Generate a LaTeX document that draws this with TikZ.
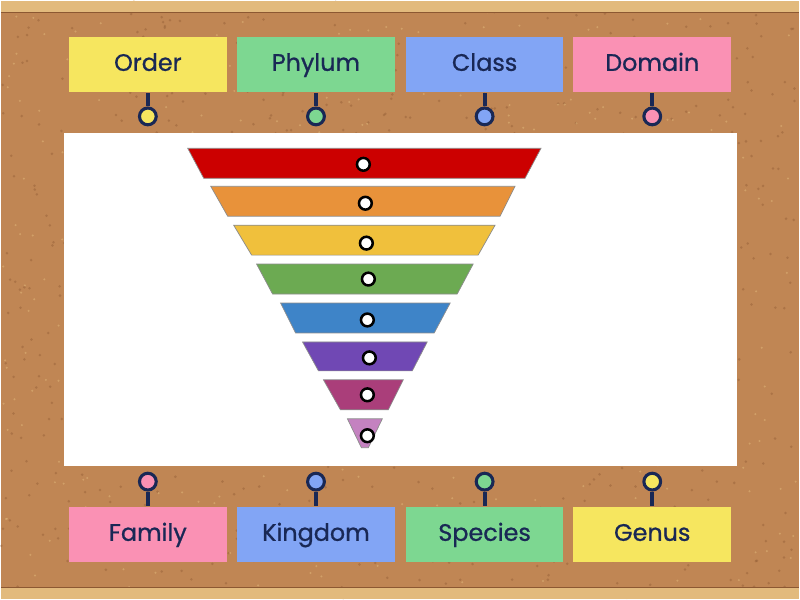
\documentclass[tikz,border=0pt]{standalone}
\usepackage{fontspec}
\setmainfont{Poppins}
\newfontfamily\notefont[FakeBold=0.9]{Poppins}
\definecolor{cork}{RGB}{192,134,84}
\definecolor{corkdark}{RGB}{140,88,50}
\definecolor{wood}{RGB}{226,186,125}
\definecolor{ink}{RGB}{25,40,85}
\definecolor{noteyellow}{RGB}{246,230,95}
\definecolor{notegreen}{RGB}{125,215,145}
\definecolor{noteblue}{RGB}{130,165,245}
\definecolor{notepink}{RGB}{250,145,180}
\definecolor{lyred}{RGB}{204,0,0}
\definecolor{lyorange}{RGB}{232,146,58}
\definecolor{lyyellow}{RGB}{240,192,60}
\definecolor{lygreen}{RGB}{108,170,82}
\definecolor{lyblue}{RGB}{62,132,200}
\definecolor{lypurple}{RGB}{112,72,180}
\definecolor{lymagenta}{RGB}{170,62,122}
\definecolor{lylilac}{RGB}{196,130,192}
\begin{document}
\begin{tikzpicture}[
  x=0.025cm, y=-0.025cm,
  note/.style={rectangle,minimum width=3.95cm,minimum height=1.4cm,inner sep=0pt,
    text height=2.1ex,text depth=0.45ex,text=ink,font=\notefont\fontsize{17}{20}\selectfont},
  pin/.style={circle,draw=ink,line width=2.2pt,minimum size=0.42cm,inner sep=0pt},
  stem/.style={draw=ink,line width=2.8pt},
  dot/.style={circle,draw=black,fill=white,line width=1.8pt,minimum size=0.32cm,inner sep=0pt},
  layer/.style={draw=black!45,line width=0.5pt}
]
% board
\fill[cork] (0,0) rectangle (800,600);
\pgfmathsetseed{11}
\foreach \i in {1,...,900}
  \fill[corkdark,opacity=0.4] (rnd*800,rnd*600) circle (1pt);
\foreach \i in {1,...,400}
  \fill[wood,opacity=0.5] (rnd*800,rnd*600) circle (0.8pt);
\fill[wood] (0,0) rectangle (800,12);
\draw[corkdark,line width=0.8pt] (0,12)--(800,12);
\fill[wood] (0,588) rectangle (800,600);
\draw[corkdark,line width=0.8pt] (0,588)--(800,588);
\fill[white] (63,133) rectangle (737,466);

% pyramid
\filldraw[layer,fill=lyred] (187,148)--(541,148)--(525,178)--(203,178)--cycle;
\filldraw[layer,fill=lyorange] (210,186)--(515,186)--(500,216)--(227,216)--cycle;
\filldraw[layer,fill=lyyellow] (233,225)--(495,225)--(478,255)--(251,255)--cycle;
\filldraw[layer,fill=lygreen] (256,264)--(473,264)--(457,294)--(272,294)--cycle;
\filldraw[layer,fill=lyblue] (280,303)--(450,303)--(434,333)--(295,333)--cycle;
\filldraw[layer,fill=lypurple] (302,342)--(427,342)--(412,371)--(318,371)--cycle;
\filldraw[layer,fill=lymagenta] (323,380)--(403,380)--(388,410)--(340,410)--cycle;
\filldraw[layer,fill=lylilac] (347,419)--(382,419)--(368,448)--(361,448)--cycle;

\node[dot] (d1) at (363,164) {};
\node[dot] (d2) at (365,203) {};
\node[dot] (d3) at (366,243) {};
\node[dot] (d4) at (368,279) {};
\node[dot] (d5) at (367,320) {};
\node[dot] (d6) at (369,358) {};
\node[dot] (d7) at (367,395) {};
\node[dot] (d8) at (367,436) {};

% top notes
\node[note,fill=noteyellow] (order) at (147,64) {Order};
\node[note,fill=notegreen] (phylum) at (315.5,64) {Phylum};
\node[note,fill=noteblue] (class) at (484.5,64) {Class};
\node[note,fill=notepink] (domain) at (652.5,64) {Domain};
\node[pin,fill=noteyellow] (porder) at (147,116) {};
\node[pin,fill=notegreen] (pphylum) at (315.5,116) {};
\node[pin,fill=noteblue] (pclass) at (484.5,116) {};
\node[pin,fill=notepink] (pdomain) at (652.5,116) {};
\draw[stem] (order.south)--(porder.north);
\draw[stem] (phylum.south)--(pphylum.north);
\draw[stem] (class.south)--(pclass.north);
\draw[stem] (domain.south)--(pdomain.north);

% bottom notes
\node[note,fill=notepink] (family) at (147,535) {Family};
\node[note,fill=noteblue] (kingdom) at (315.5,535) {Kingdom};
\node[note,fill=notegreen] (species) at (484.5,535) {Species};
\node[note,fill=noteyellow] (genus) at (652.5,535) {Genus};
\node[pin,fill=notepink] (pfamily) at (147,482) {};
\node[pin,fill=noteblue] (pkingdom) at (315.5,482) {};
\node[pin,fill=notegreen] (pspecies) at (484.5,482) {};
\node[pin,fill=noteyellow] (pgenus) at (652.5,482) {};
\draw[stem] (pfamily.south)--(family.north);
\draw[stem] (pkingdom.south)--(kingdom.north);
\draw[stem] (pspecies.south)--(species.north);
\draw[stem] (pgenus.south)--(genus.north);
\end{tikzpicture}
\end{document}
